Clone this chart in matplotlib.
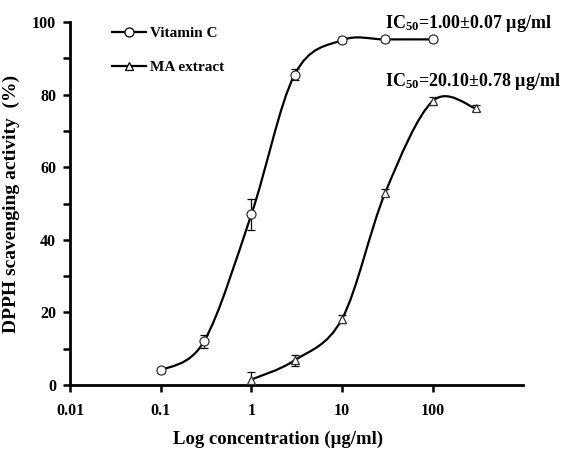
import matplotlib.pyplot as plt
import numpy as np
from matplotlib.path import Path
from matplotlib.patches import PathPatch

plt.rcParams['font.family'] = ['Liberation Serif', 'DejaVu Serif']
plt.rcParams['font.weight'] = 'bold'
plt.rcParams['mathtext.fontset'] = 'custom'
plt.rcParams['mathtext.rm'] = 'Liberation Serif:bold'
plt.rcParams['mathtext.it'] = 'Liberation Serif:bold'
plt.rcParams['mathtext.bf'] = 'Liberation Serif:bold'

# data
vitc_x = [0.1, 0.3, 1, 3, 10, 30, 100]
vitc_y = [4.0, 12.0, 47.0, 85.5, 95.0, 95.2, 95.2]
vitc_err = [0.8, 1.8, 4.2, 1.5, 0.8, 0.8, 0.6]

ma_x = [1, 3, 10, 30, 100, 300]
ma_y = [1.5, 6.8, 18.2, 53.0, 78.2, 76.2]
ma_err = [2.0, 1.5, 1.2, 1.0, 1.2, 0.8]

x_ticks = [0.01, 0.1, 1, 10, 100]
x_ticklabels = ['0.01', '0.1', '1', '10', '100']
ic50_texts = [r'IC$_{50}$=1.00$\pm$0.07 µg/ml', r'IC$_{50}$=20.10$\pm$0.78 µg/ml']


# smoothed line like a spreadsheet chart (Bezier through the points)
def smooth_path(xs, ys):
    lx = np.log10(xs)
    pts = np.column_stack([lx, ys])
    n = len(pts)
    verts = [pts[0]]
    codes = [Path.MOVETO]
    for i in range(n - 1):
        p0 = pts[max(i - 1, 0)]
        p1 = pts[i]
        p2 = pts[i + 1]
        p3 = pts[min(i + 2, n - 1)]
        c1 = p1 + (p2 - p0) / 6
        c2 = p2 - (p3 - p1) / 6
        verts += [c1, c2, p2]
        codes += [Path.CURVE4] * 3
    verts = np.array(verts)
    verts[:, 0] = 10 ** verts[:, 0]
    return Path(verts, codes)


fig = plt.figure(figsize=(5.7, 4.49), dpi=100)
ax = fig.add_axes([0.123, 0.1425, 0.795, 0.8085])
ax.set_xscale('log')

for xs, ys in [(vitc_x, vitc_y), (ma_x, ma_y)]:
    ax.add_patch(PathPatch(smooth_path(xs, ys), facecolor='none',
                           edgecolor='black', lw=1.6, zorder=2))

ax.errorbar(vitc_x, vitc_y, yerr=vitc_err, fmt='o', ms=6.5, mfc='white',
            mec='#333333', mew=0.9, ecolor='black', elinewidth=0.9, capsize=3, zorder=3)
ax.errorbar(ma_x, ma_y, yerr=ma_err, fmt='^', ms=5.5, mfc='white',
            mec='#333333', mew=0.9, ecolor='black', elinewidth=0.9, capsize=3, zorder=3)

# legend handles
ax.plot([], [], color='black', lw=1.6, marker='o', ms=6.5, mfc='white', mew=0.9, label='Vitamin C')
ax.plot([], [], color='black', lw=1.6, marker='^', ms=5.5, mfc='white', mew=0.9, label='MA extract')
handles, labels = ax.get_legend_handles_labels()
leg = ax.legend(handles[-2:], labels[-2:], loc='upper left', bbox_to_anchor=(0.062, 1.025),
                frameon=False, fontsize=11, handlelength=2.2, labelspacing=1.3,
                handletextpad=0.3)

ax.text(30, 99.5, ic50_texts[0], fontsize=13, va='center', ha='left')
ax.text(30, 83.5, ic50_texts[1], fontsize=13, va='center', ha='left')

ax.set_xlim(0.01, 1000)
ax.set_ylim(0, 100)
ax.set_xticks(x_ticks)
ax.set_xticklabels(x_ticklabels)
ax.xaxis.set_minor_locator(plt.NullLocator())
ax.set_yticks([0, 20, 40, 60, 80, 100])
ax.set_yticks([10, 30, 50, 70, 90], minor=True)
ax.tick_params(axis='both', which='major', direction='out', length=5, width=1.8, labelsize=11.5)
ax.tick_params(axis='x', which='major', pad=8)
ax.tick_params(axis='y', which='major', pad=5)
ax.tick_params(axis='y', which='minor', direction='out', length=5, width=1.8)

for s in ['top', 'right']:
    ax.spines[s].set_visible(False)
for s in ['left', 'bottom']:
    ax.spines[s].set_linewidth(2)

ax.set_xlabel('Log concentration (µg/ml)', fontsize=13.5, fontweight='bold')
ax.xaxis.set_label_coords(0.46, -0.125)
ax.set_ylabel('DPPH scavenging activity  (%)', fontsize=14, fontweight='bold')
ax.yaxis.set_label_coords(-0.11, 0.5)

fig.savefig('out.png', dpi=100)
